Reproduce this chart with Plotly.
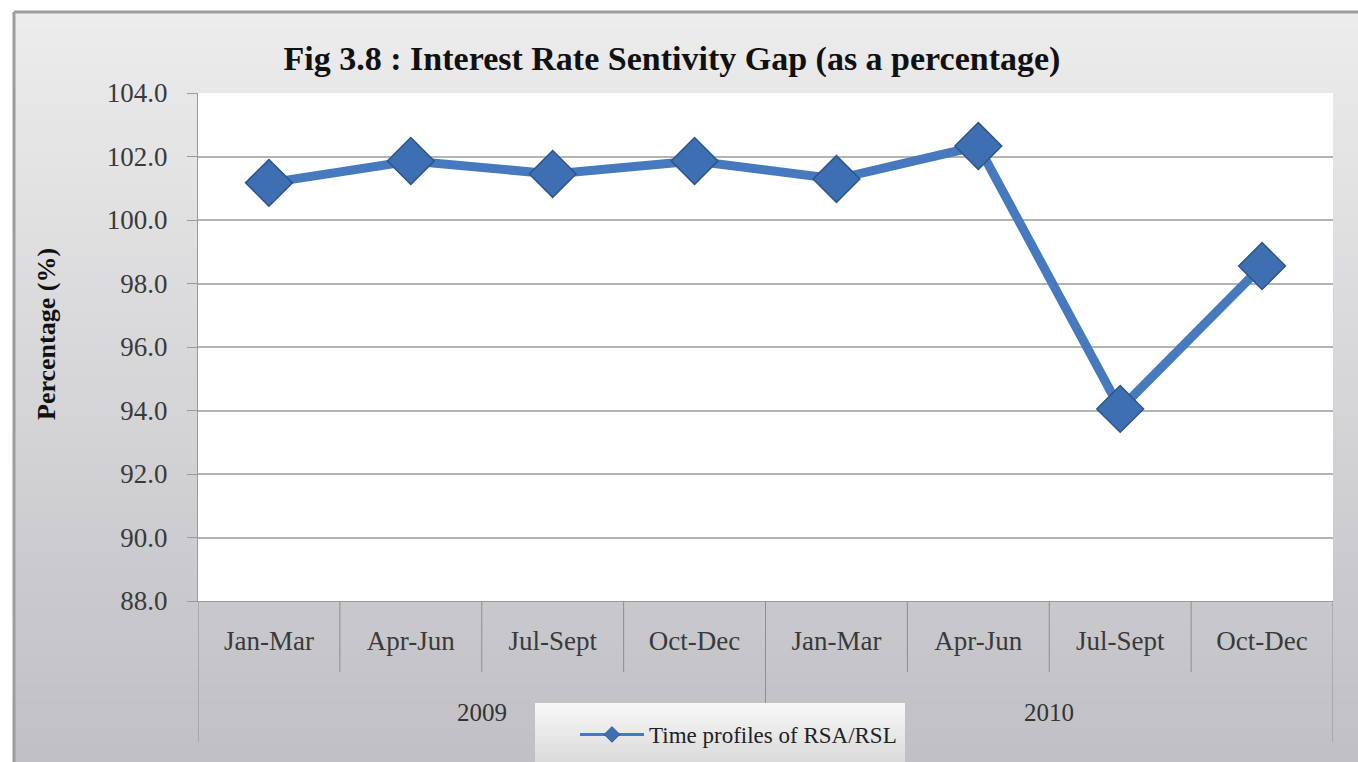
import plotly.graph_objects as go

# Quarterly RSA/RSL ratio, 2009-2010
years = ["2009", "2010"]
quarters = ["Jan-Mar", "Apr-Jun", "Jul-Sept", "Oct-Dec",
            "Jan-Mar", "Apr-Jun", "Jul-Sept", "Oct-Dec"]
rsa_rsl = [101.17, 101.86, 101.45, 101.86, 101.29, 102.33, 94.05, 98.55]
y_ticks = [88, 90, 92, 94, 96, 98, 100, 102, 104]

title_text = "Fig 3.8 : Interest Rate Sentivity Gap (as a percentage)"
y_title = "Percentage (%)"
series_name = "Time profiles of RSA/RSL"

SERIF = "Liberation Serif"
LINE_BLUE = "#4679bd"
MARK_BLUE = "#3d6fb2"
W, H = 1358, 762
L, R, T, B = 198, 25, 93, 161
PW, PH = W - L - R, H - T - B

def px_x(p):
    return (p - L) / PW

def px_y(p):
    return (H - B - p) / PH

x_idx = list(range(len(quarters)))
per_year = len(quarters) // len(years)

fig = go.Figure()

fig.add_trace(go.Scatter(
    x=x_idx, y=rsa_rsl, mode="lines+markers",
    line=dict(color=LINE_BLUE, width=9),
    marker=dict(symbol="diamond", size=36, color=MARK_BLUE,
                line=dict(color="#2c5688", width=1.5)),
    showlegend=False, hoverinfo="y",
))
# legend entry drawn with a thin line and small diamond
fig.add_trace(go.Scatter(
    x=[None], y=[None], mode="lines+markers", name=series_name,
    line=dict(color=LINE_BLUE, width=3),
    marker=dict(symbol="diamond", size=12, color=MARK_BLUE,
                line=dict(color="#2c5688", width=1)),
))

shapes = []
# outer chart area: vertical gray gradient
top_c = (236, 236, 236)
bot_c = (192, 192, 197)
n_bands = 48
y_start, y_end = 12, H
for i in range(n_bands):
    t = i / (n_bands - 1)
    c = tuple(round(top_c[k] + (bot_c[k] - top_c[k]) * t) for k in range(3))
    ya = y_start + (y_end - y_start) * i / n_bands
    yb = y_start + (y_end - y_start) * (i + 1) / n_bands + 1
    shapes.append(dict(type="rect", xref="paper", yref="paper", layer="below",
                       x0=px_x(14), x1=px_x(W + 2), y0=px_y(ya), y1=px_y(yb),
                       line=dict(width=0), fillcolor="rgb(%d,%d,%d)" % c))
# frame lines of the chart area
shapes.append(dict(type="line", xref="paper", yref="paper", layer="below",
                   x0=px_x(14), x1=px_x(W + 2), y0=px_y(12), y1=px_y(12),
                   line=dict(color="#9c9c9c", width=3)))
shapes.append(dict(type="line", xref="paper", yref="paper", layer="below",
                   x0=px_x(14), x1=px_x(14), y0=px_y(12), y1=px_y(H + 2),
                   line=dict(color="#9c9c9c", width=3)))
# white plotting area
shapes.append(dict(type="rect", xref="paper", yref="paper", layer="below",
                   x0=0, x1=1, y0=0, y1=1, line=dict(width=0), fillcolor="white"))

# category dividers below the axis
for i in range(len(quarters) + 1):
    xb = i - 0.5
    long_div = (i % per_year == 0)
    shapes.append(dict(type="line", xref="x", yref="paper",
                       x0=xb, x1=xb, y0=0, y1=px_y(742 if long_div else 672),
                       line=dict(color="#8e8e8e", width=1)))

# legend box with soft gradient
lg_x0, lg_x1, lg_y0, lg_y1 = 535, 905, 703, H + 4
n_lg = 16
for i in range(n_lg):
    t = i / (n_lg - 1)
    g = round(247 - 30 * t)
    ya = lg_y0 + (lg_y1 - lg_y0) * i / n_lg
    yb = lg_y0 + (lg_y1 - lg_y0) * (i + 1) / n_lg + 1
    shapes.append(dict(type="rect", xref="paper", yref="paper",
                       x0=px_x(lg_x0), x1=px_x(lg_x1), y0=px_y(ya), y1=px_y(yb),
                       line=dict(width=0), fillcolor="rgb(%d,%d,%d)" % (g, g, g + 1)))

annotations = []
for j, yr in enumerate(years):
    annotations.append(dict(
        x=j * per_year + (per_year - 1) / 2, xref="x",
        y=px_y(712), yref="paper", yanchor="middle", xanchor="center",
        text=yr, showarrow=False,
        font=dict(family=SERIF, size=25, color="#333333"),
    ))
# vertical axis title
annotations.append(dict(
    x=px_x(46), xref="paper", y=px_y(334), yref="paper",
    xanchor="center", yanchor="middle", textangle=-90,
    text="<b>%s</b>" % y_title, showarrow=False,
    font=dict(family=SERIF, size=26, color="#111111"),
))

fig.update_layout(
    width=W, height=H,
    margin=dict(l=L, r=R, t=T, b=B, autoexpand=False),
    paper_bgcolor="white",
    plot_bgcolor="white",
    title=dict(text="<b>%s</b>" % title_text, xref="paper", x=px_x(672),
               xanchor="center", yref="container", y=1 - 58 / H, yanchor="middle",
               font=dict(family=SERIF, size=34, color="#111111")),
    xaxis=dict(
        range=[-0.5, len(quarters) - 0.5],
        tickmode="array", tickvals=x_idx, ticktext=quarters,
        showgrid=False, zeroline=False, ticks="",
        showline=True, linecolor="#9a9a9a", linewidth=1,
        tickfont=dict(family=SERIF, size=27, color="#3a3a3a"),
        ticklabelstandoff=16,
        fixedrange=True,
    ),
    yaxis=dict(
        range=[88, 104], tickvals=y_ticks, tickformat=".1f",
        showgrid=True, gridcolor="#b4b4b4", gridwidth=1.5,
        zeroline=False, showline=True, linecolor="#9a9a9a", linewidth=1,
        ticks="outside", ticklen=10, tickcolor="#9a9a9a",
        tickfont=dict(family=SERIF, size=27, color="#3a3a3a"),
        ticklabelstandoff=14,
        fixedrange=True,
    ),
    legend=dict(
        x=px_x(lg_x0 + 40), y=px_y(713), xanchor="left", yanchor="top",
        bgcolor="rgba(0,0,0,0)", borderwidth=0,
        font=dict(family=SERIF, size=23, color="#222222"),
        itemwidth=64,
    ),
    shapes=shapes,
    annotations=annotations,
)

fig.write_html("out.html")
